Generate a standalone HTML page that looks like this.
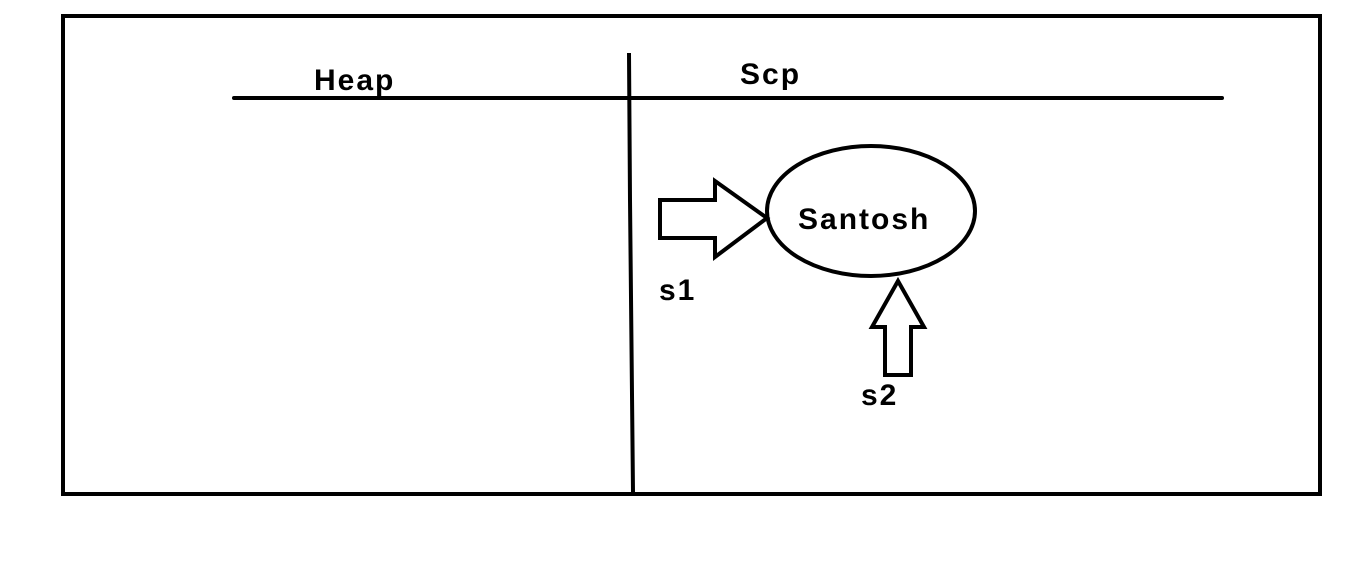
<!DOCTYPE html>
<html><head><style>
html,body{margin:0;padding:0;background:#fff;}
svg{display:block;}
text{font-family:"Liberation Sans",sans-serif;font-weight:bold;font-size:30px;letter-spacing:2px;fill:#000;}
</style></head><body>
<svg width="1360" height="566" viewBox="0 0 1360 566" xmlns="http://www.w3.org/2000/svg">
<rect x="63" y="16" width="1257" height="478" fill="none" stroke="#000" stroke-width="4"/>
<line x1="234" y1="98" x2="1222" y2="98" stroke="#000" stroke-width="4" stroke-linecap="round"/>
<polyline points="629,53 630,200 633,492" fill="none" stroke="#000" stroke-width="4"/>
<ellipse cx="871" cy="211" rx="104" ry="65" fill="none" stroke="#000" stroke-width="4"/>
<polygon points="660,200 715,200 715,181 767,218 715,257 715,238 660,238" fill="none" stroke="#000" stroke-width="4" stroke-linejoin="miter"/>
<polygon points="898,281 924,327 911,327 911,375 885,375 885,327 872,327" fill="none" stroke="#000" stroke-width="4"/>
<text x="314" y="90">Heap</text>
<text x="740" y="84">Scp</text>
<text x="798" y="229">Santosh</text>
<text x="659" y="300">s1</text>
<text x="861" y="405">s2</text>
</svg>
</body></html>
